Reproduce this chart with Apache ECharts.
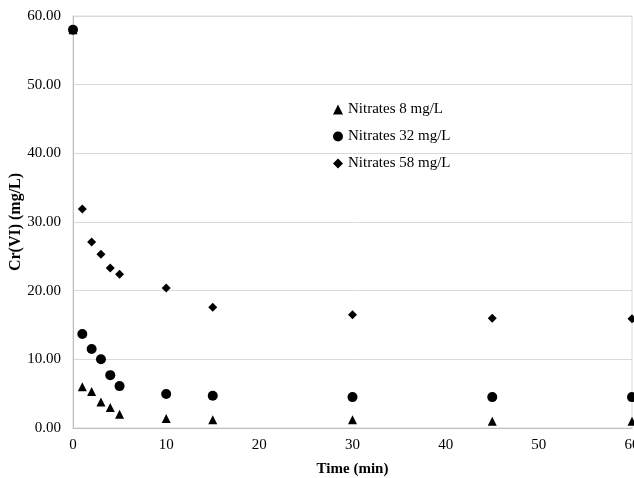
<!DOCTYPE html>
<html>
<head>
    <meta charset="utf-8">
    <script src="https://cdn.jsdelivr.net/npm/echarts@6/dist/echarts.min.js"></script>
    <style>body{margin:0;background:#fff;}</style>
</head>
<body>
    <div id="main" style="width: 634px;height:478px;"></div>
	<script type="text/javascript">
        // time (min)
        var time = [0, 1, 2, 3, 4, 5, 10, 15, 30, 45, 60];
        // Cr(VI) (mg/L) per nitrate level
        var nitrates8 = [58.0, 6.0, 5.3, 3.8, 3.0, 2.0, 1.4, 1.2, 1.2, 1.0, 1.0];
        var nitrates32 = [58.0, 13.7, 11.5, 10.0, 7.7, 6.1, 4.95, 4.7, 4.5, 4.5, 4.5];
        var nitrates58 = [58.0, 31.9, 27.1, 25.3, 23.3, 22.4, 20.4, 17.6, 16.5, 16.0, 15.9];
        var seriesNames = ['Nitrates 8 mg/L', 'Nitrates 32 mg/L', 'Nitrates 58 mg/L'];

        function pairs(vals) {
            return time.map(function (t, i) { return [t, vals[i]]; });
        }

        var font = 'Liberation Serif';
        var mark = { color: '#000', opacity: 1 };
        var myChart = echarts.init(document.getElementById('main'));
		myChart.setOption({
            animation: false,
            grid: { left: 73, top: 16, right: 2, bottom: 50, containLabel: false, outerBoundsMode: 'none',
                    show: true, borderColor: '#d9d9d9', borderWidth: 1 },
			legend: {
                orient: 'vertical',
                left: 328, top: 97,
                itemGap: 12,
                itemWidth: 10, itemHeight: 10,
                textStyle: { fontFamily: font, fontSize: 15, color: '#000' },
				data: seriesNames
			},
			xAxis: {
                type: 'value', min: 0, max: 60, interval: 10,
                name: 'Time (min)', nameLocation: 'middle', nameGap: 34, nameMoveOverlap: false,
                nameTextStyle: { fontFamily: font, fontSize: 15, fontWeight: 'bold', color: '#000' },
                axisLine: { lineStyle: { color: '#bfbfbf' } },
                axisTick: { show: false },
                splitLine: { show: false },
                axisLabel: { fontFamily: font, fontSize: 15, color: '#000', margin: 10 }
            },
			yAxis: {
                type: 'value', min: 0, max: 60, interval: 10,
                name: 'Cr(VI) (mg/L)', nameLocation: 'middle', nameGap: 49, nameMoveOverlap: false,
                nameTextStyle: { fontFamily: font, fontSize: 16, fontWeight: 'bold', color: '#000' },
                axisLine: { show: true, lineStyle: { color: '#bfbfbf' } },
                axisTick: { show: false },
                splitLine: { lineStyle: { color: '#d9d9d9' } },
                axisLabel: { fontFamily: font, fontSize: 15, color: '#000', margin: 12,
                    formatter: function (v) { return v.toFixed(2); } }
            },
			series: [
                { name: seriesNames[0], type: 'scatter', symbol: 'triangle', symbolSize: 9,
                  itemStyle: mark, data: pairs(nitrates8) },
                { name: seriesNames[1], type: 'scatter', symbol: 'circle', symbolSize: 10,
                  itemStyle: mark, data: pairs(nitrates32) },
                { name: seriesNames[2], type: 'scatter', symbol: 'diamond', symbolSize: 9,
                  itemStyle: mark, data: pairs(nitrates58) }
            ]
		});
    </script>
</body>
</html>
